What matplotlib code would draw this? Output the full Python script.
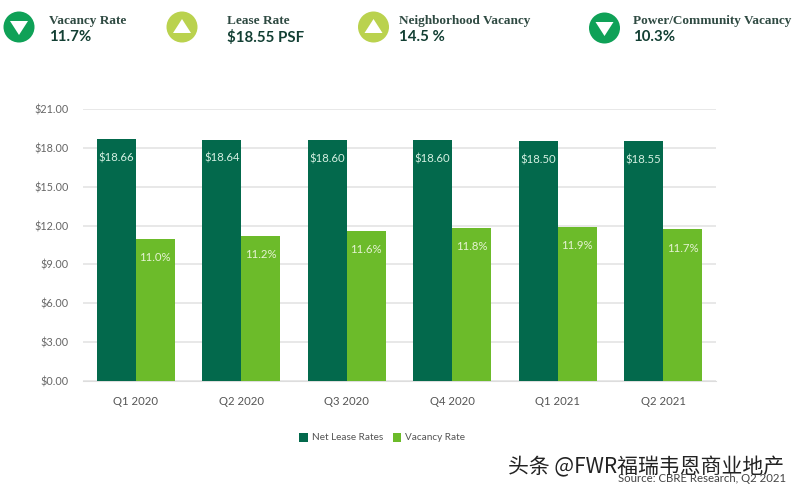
#!/usr/bin/env python3
"""Net lease rates and vacancy rate by quarter, with KPI strip on top."""

import matplotlib
matplotlib.use("Agg")
import matplotlib.pyplot as plt
import numpy as np
from matplotlib.patches import Circle, Polygon, Rectangle

plt.rcParams['font.family'] = ['Noto Sans CJK SC', 'DejaVu Sans']

quarters = ['Q1 2020', 'Q2 2020', 'Q3 2020', 'Q4 2020', 'Q1 2021', 'Q2 2021']
lease_rates = [18.66, 18.64, 18.60, 18.60, 18.50, 18.55]
vacancy_rates = [11.0, 11.2, 11.6, 11.8, 11.9, 11.7]
y_ticks = [0, 3, 6, 9, 12, 15, 18, 21]

kpi_titles = ['Vacancy Rate', 'Lease Rate', 'Neighborhood Vacancy', 'Power/Community Vacancy']
kpi_values = ['11.7%', '$18.55 PSF', '14.5 %', '10.3%']
kpi_down = [True, False, False, True]

DARK = '#03694C'
LIGHT = '#6CBB2A'
NARROW = 'Lato'
W, H = 800, 491

fig = plt.figure(figsize=(W / 100, H / 100), dpi=100, facecolor='white')

# chart area, pixel positions
left, right, top, bottom = 83, 716, 109, 381
ax = fig.add_axes([left / W, 1 - bottom / H, (right - left) / W, (bottom - top) / H])

x = np.arange(len(quarters))
bar_w = 0.37
ax.bar(x - bar_w / 2, lease_rates, bar_w, color=DARK, zorder=3)
ax.bar(x + bar_w / 2, vacancy_rates, bar_w, color=LIGHT, zorder=3)

for i in x:
    ax.text(i - bar_w / 2, lease_rates[i] - 1.45, f'${lease_rates[i]:.2f}', color='#D5F0E2',
            ha='center', va='center', fontsize=8.2, family=NARROW, zorder=4)
    ax.text(i + bar_w / 2, vacancy_rates[i] - 1.45, f'{vacancy_rates[i]:.1f}%', color='#E6F3D3',
            ha='center', va='center', fontsize=8.2, family=NARROW, zorder=4)

ax.set_xlim(-0.5, len(quarters) - 0.5)
ax.set_ylim(0, 21)
ax.set_yticks(y_ticks)
ax.set_yticklabels([f'${v:.2f}' for v in y_ticks], family=NARROW, fontsize=7.8, color='#666666')
ax.set_xticks(x)
ax.set_xticklabels(quarters, family=NARROW, fontsize=8.2, color='#555555')
ax.tick_params(axis='y', length=0, pad=10.5)
ax.tick_params(axis='x', length=0, pad=10.5)
ax.grid(axis='y', color='#E6E6E6', linewidth=1.3, zorder=0)
ax.set_axisbelow(True)
for s in ax.spines.values():
    s.set_visible(False)
ax.spines['bottom'].set_visible(True)
ax.spines['bottom'].set_color('#DDDDDD')

# overlay in pixel coordinates for the KPI strip, legend and footer
ov = fig.add_axes([0, 0, 1, 1], facecolor='none')
ov.set_xlim(0, W)
ov.set_ylim(H, 0)
ov.axis('off')

kpi_x = [19, 182, 373.5, 604.5]
kpi_y = [27, 27, 27, 28]
text_x = [49, 227, 399, 633]
for cx, cy, tx, title, val, down in zip(kpi_x, kpi_y, text_x, kpi_titles, kpi_values, kpi_down):
    col = '#0FA157' if down else '#BAD24E'
    ov.add_patch(Circle((cx, cy), 15.5, color=col, lw=0))
    if down:
        tri = [(cx - 9, cy - 6), (cx + 9, cy - 6), (cx, cy + 8)]
    else:
        tri = [(cx - 9, cy + 6), (cx + 9, cy + 6), (cx, cy - 8)]
    ov.add_patch(Polygon(tri, color='white', lw=0))
    ov.text(tx, 20.5, title, family='Liberation Serif', fontweight='bold', fontsize=9.5,
            color='#2F4A42', ha='left', va='center')
    ov.text(tx, 37, val, family=NARROW, fontweight='bold', fontsize=10.8,
            color='#123F33', ha='left', va='center')

# legend
ov.add_patch(Rectangle((299, 433), 9, 9, color=DARK, lw=0))
ov.text(312, 437, 'Net Lease Rates', family=NARROW, fontsize=7.2, color='#555555', va='center')
ov.add_patch(Rectangle((393, 433), 8, 9, color=LIGHT, lw=0))
ov.text(405, 437, 'Vacancy Rate', family=NARROW, fontsize=7.2, color='#555555', va='center')

# source line with the watermark printed over it
ov.text(786, 478, 'Source: CBRE Research, Q2 2021', family=NARROW, fontsize=8.2,
        color='#444444', ha='right', va='center')
ov.text(508, 467, '头条 @FWR福瑞韦恩商业地产', fontsize=15, color='#222222', ha='left', va='center',
        family=['Noto Sans CJK SC', 'DejaVu Sans'])

fig.savefig('out.png', dpi=100)
